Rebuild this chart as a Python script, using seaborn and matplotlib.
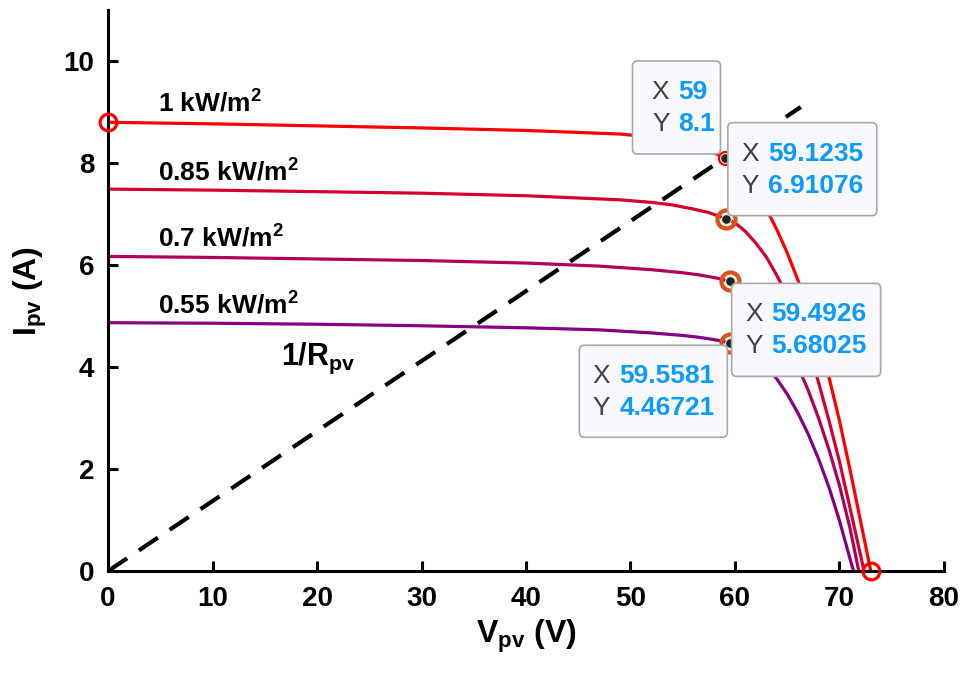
import numpy as np
import pandas as pd
import matplotlib
matplotlib.use("Agg")
import matplotlib.pyplot as plt
import matplotlib.transforms as mtrans
from matplotlib.patches import FancyBboxPatch
import seaborn as sns

# ---- I-V characteristics of the PV array at four irradiance levels ----
levels = ["1 kW/m2", "0.85 kW/m2", "0.7 kW/m2", "0.55 kW/m2"]
level_text = [r"$\mathbf{1\ kW/m^2}$", r"$\mathbf{0.85\ kW/m^2}$",
              r"$\mathbf{0.7\ kW/m^2}$", r"$\mathbf{0.55\ kW/m^2}$"]

v_1000 = [0, 10, 20, 30, 40, 49, 52, 54, 56, 57.5, 59, 60, 61, 62, 63, 64, 65,
          66, 67, 68, 69, 70, 71, 72, 73]
i_1000 = [8.80, 8.77, 8.73, 8.69, 8.64, 8.57, 8.51, 8.45, 8.36, 8.25, 8.10, 7.95,
          7.74, 7.45, 7.10, 6.70, 6.24, 5.72, 5.15, 4.50, 3.80, 2.95, 2.00, 1.00, 0.00]

v_850 = [0, 10, 20, 30, 40, 49, 52, 54, 56, 57.5, 59.12, 60, 61, 62, 63, 64, 65,
         66, 67, 68, 69, 70, 71, 72, 72.35]
i_850 = [7.49, 7.47, 7.44, 7.41, 7.36, 7.28, 7.23, 7.18, 7.10, 7.03, 6.91, 6.83,
         6.66, 6.43, 6.16, 5.80, 5.40, 4.94, 4.40, 3.70, 2.95, 2.15, 1.25, 0.33, 0.00]

v_700 = [0, 10, 20, 30, 40, 47, 52, 55, 56.5, 57.5, 58.5, 59.49, 60.3, 61, 62,
         63, 64, 65, 66, 67, 68, 69, 70, 71, 71.85]
i_700 = [6.17, 6.15, 6.12, 6.09, 6.04, 5.98, 5.91, 5.85, 5.81, 5.775, 5.735, 5.68,
         5.615, 5.54, 5.37, 5.13, 4.82, 4.45, 4.02, 3.55, 3.00, 2.38, 1.68, 0.85, 0.00]

v_550 = [0, 10, 20, 30, 40, 47, 52, 55, 56.5, 57.5, 58.5, 59.56, 60.3, 61, 62,
         63, 64, 65, 66, 67, 68, 69, 70, 71, 71.35]
i_550 = [4.87, 4.86, 4.84, 4.81, 4.77, 4.73, 4.67, 4.62, 4.585, 4.555, 4.52, 4.47,
         4.42, 4.355, 4.21, 4.01, 3.77, 3.47, 3.11, 2.69, 2.20, 1.64, 0.99, 0.25, 0.00]

curve_v = [v_1000, v_850, v_700, v_550]
curve_i = [i_1000, i_850, i_700, i_550]
curve_colors = ["#ff0000", "#d5002e", "#b0005a", "#860084"]

# short-circuit and open-circuit points of the 1 kW/m2 curve
end_v = [0, 73.0]
end_i = [8.80, 0.0]

# load line 1/R_pv
load_v = [0, 66.3]
load_i = [0, 9.1]

# data tips at the operating points
tip_v = [59, 59.1235, 59.4926, 59.5581]
tip_i = [8.1, 6.91076, 5.68025, 4.46721]

x_ticks = [0, 10, 20, 30, 40, 50, 60, 70, 80]
y_ticks = [0, 2, 4, 6, 8, 10]

# ---- style ----
sns.set_style("ticks")
plt.rcParams["font.family"] = ["Liberation Sans", "DejaVu Sans"]
plt.rcParams["text.color"] = "black"
plt.rcParams["axes.labelcolor"] = "black"
plt.rcParams["mathtext.fontset"] = "custom"
plt.rcParams["mathtext.rm"] = "Liberation Sans"
plt.rcParams["mathtext.bf"] = "Liberation Sans:bold"
plt.rcParams["mathtext.it"] = "Liberation Sans:italic"

fig = plt.figure(figsize=(9.63, 6.75), dpi=100)
ax = fig.add_axes([0.1122, 0.154, 0.868, 0.831])

frames = [pd.DataFrame({"V": v, "I": i, "G": g})
          for v, i, g in zip(curve_v, curve_i, levels)]
df = pd.concat(frames, ignore_index=True)
sns.lineplot(data=df, x="V", y="I", hue="G", hue_order=levels,
             palette=dict(zip(levels, curve_colors)), sort=False,
             estimator=None, lw=2.3, legend=False, ax=ax)

# load line
sns.lineplot(x=load_v, y=load_i, color="black", lw=3.0, ax=ax)
ax.lines[-1].set_dashes((5.5, 3.4))

# end markers of the 1 kW/m2 curve
ax.plot(end_v, end_i, "o", ms=12, mfc="none", mec="#ff0000", mew=2.3,
        clip_on=False, zorder=5)

# operating-point markers
ax.plot(tip_v[:1], tip_i[:1], "o", ms=9, mfc="none", mec="#ff0000", mew=2.0,
        zorder=5)
ax.plot(tip_v[1:], tip_i[1:], "o", ms=13, mfc="none", mec="#d95319", mew=3.0,
        zorder=5)
ax.plot(tip_v, tip_i, "o", ms=7, mfc="#222222", mec="#f3e7cc", mew=0.8,
        zorder=6)

# irradiance labels
label_pos = [(4.8, 9.0), (4.8, 7.64), (4.8, 6.36), (4.8, 5.03)]
for (lx, ly), txt in zip(label_pos, level_text):
    ax.text(lx, ly, txt, fontsize=19, color="black", va="baseline")
ax.text(16.6, 4.05, r"$\mathbf{1/R_{pv}}$", fontsize=22, va="baseline",
        color="black")

# data tip boxes: (left, bottom, width, height, label column, value column) in pixels
tip_boxes = [(-92, 4, 88, 93, 37, 46),
             (2, 3, 149, 93, 31, 40),
             (2, -95, 149, 93, 31, 40),
             (-151, -94, 148, 92, 31, 40)]
for x, y, (bx, by, bw, bh, cl, cv) in zip(tip_v, tip_i, tip_boxes):
    tr = fig.dpi_scale_trans + mtrans.ScaledTranslation(x, y, ax.transData)
    box = FancyBboxPatch((bx / 100, by / 100), bw / 100, bh / 100,
                         boxstyle="round,pad=0,rounding_size=0.05",
                         fc="#f8f8fd", ec="#a8a8a8", lw=1.2,
                         transform=tr, zorder=7, clip_on=False)
    ax.add_patch(box)
    top = by + bh
    for row, (name, val) in enumerate((("X", x), ("Y", y))):
        ty = (top - 31 - 32 * row) / 100
        ax.text((bx + cl) / 100, ty, name, transform=tr, fontsize=19,
                color="#404040", ha="right", va="center", zorder=8)
        ax.text((bx + cv) / 100, ty, f"{val:.6g}", transform=tr,
                fontsize=19, fontweight="bold", color="#0a9bff",
                ha="left", va="center", zorder=8)

# axes
ax.set_xlim(0, 80)
ax.set_ylim(0, 11)
ax.set_xticks(x_ticks)
ax.set_yticks(y_ticks)
for side in ("top", "right"):
    ax.spines[side].set_visible(False)
for side in ("left", "bottom"):
    ax.spines[side].set_linewidth(2.2)
    ax.spines[side].set_color("black")
ax.tick_params(direction="in", length=7, width=2.2, labelsize=20,
               colors="black")
ax.tick_params(axis="x", pad=11)
ax.tick_params(axis="y", pad=10)
for lbl in ax.get_xticklabels() + ax.get_yticklabels():
    lbl.set_fontweight("bold")

ax.set_xlabel(r"$\mathbf{V_{pv}\ (V)}$", fontsize=23, labelpad=4)
ax.set_ylabel(r"$\mathbf{I_{pv}\ (A)}$", fontsize=23, labelpad=10)

fig.savefig("out.png", dpi=100)
